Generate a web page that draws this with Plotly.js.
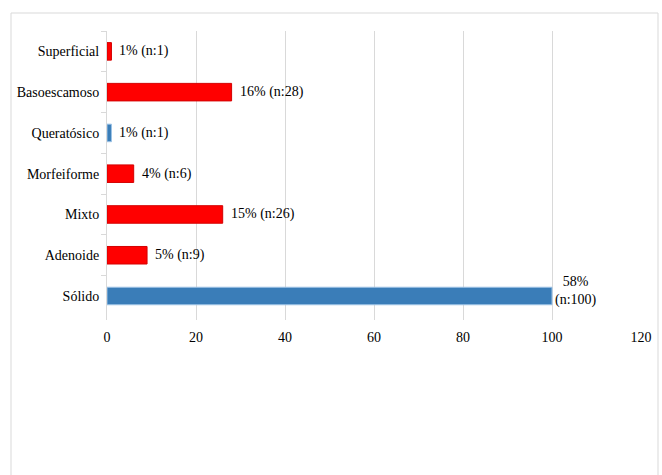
<!DOCTYPE html>
<html>
<head>
<meta charset="utf-8">
<script src="https://cdn.plot.ly/plotly-3.0.1.min.js"></script>
<style>
  html, body { margin: 0; padding: 0; background: #ffffff; }
  #chart { width: 662px; height: 475px; }
</style>
</head>
<body>
<div id="chart"></div>
<script>
// Data (top to bottom as shown)
const categories = ["Superficial", "Basoescamoso", "Queratósico", "Morfeiforme", "Mixto", "Adenoide", "Sólido"];
const counts = [1, 28, 1, 6, 26, 9, 100];
const percents = [1, 16, 1, 4, 15, 5, 58];
const barColors = ["#ff0000", "#ff0000", "#3a7db8", "#ff0000", "#ff0000", "#ff0000", "#3a7db8"];
const edgeColors = ["#d40000", "#d40000", "#9dc3e6", "#d40000", "#d40000", "#d40000", "#9dc3e6"];
const xTicks = [0, 20, 40, 60, 80, 100, 120];

const labels = counts.map((n, i) => percents[i] + "%" + (n >= 100 ? "<br>" : " ") + "(n:" + n + ")");

const serif = "Liberation Serif, Times New Roman, serif";

const trace = {
  type: "bar",
  orientation: "h",
  y: categories,
  x: counts,
  marker: { color: barColors, line: { color: edgeColors, width: 1 } },
  width: 0.43,
  hoverinfo: "skip"
};

const L = 107, R = 641, T = 31, B = 320;
const pw = R - L, ph = B - T;
const px = v => (v - L) / pw;
const py = v => (B - v) / ph;

const annotations = categories.map((c, i) => ({
  x: counts[i],
  y: c,
  xref: "x", yref: "y",
  text: labels[i],
  showarrow: false,
  xanchor: "left",
  yanchor: "middle",
  align: "center",
  xshift: counts[i] >= 100 ? 1 : 6,
  yshift: counts[i] >= 100 ? 5 : 0,
  font: { family: serif, size: 14, color: "#000000" }
}));

const layout = {
  width: 662,
  height: 475,
  margin: { l: L, r: 662 - R, t: T, b: 475 - B, pad: 0, autoexpand: false },
  paper_bgcolor: "#ffffff",
  plot_bgcolor: "#ffffff",
  showlegend: false,
  font: { family: serif, size: 14, color: "#000000" },
  xaxis: {
    range: [0, 120],
    tickvals: xTicks,
    ticktext: xTicks.map(String),
    showgrid: true,
    gridcolor: "#d9d9d9",
    gridwidth: 1,
    zeroline: false,
    showline: false,
    ticks: "",
    ticklabelstandoff: 7,
    automargin: false,
    tickfont: { family: serif, size: 14, color: "#000000" },
    fixedrange: true
  },
  yaxis: {
    type: "category",
    autorange: "reversed",
    showline: true,
    linecolor: "#d9d9d9",
    linewidth: 1,
    ticks: "outside",
    tickson: "boundaries",
    ticklen: 5,
    tickcolor: "#d9d9d9",
    showgrid: false,
    zeroline: false,
    ticklabelstandoff: 4,
    automargin: false,
    tickfont: { family: serif, size: 14, color: "#000000" },
    fixedrange: true
  },
  annotations: annotations,
  shapes: [
    {
      type: "rect",
      xref: "paper", yref: "paper",
      x0: px(11), x1: px(658), y0: py(490), y1: py(13),
      line: { color: "#d9d9d9", width: 1 },
      fillcolor: "rgba(0,0,0,0)",
      layer: "below"
    }
  ]
};

Plotly.newPlot("chart", [trace], layout, { displayModeBar: false, staticPlot: true });
</script>
</body>
</html>
